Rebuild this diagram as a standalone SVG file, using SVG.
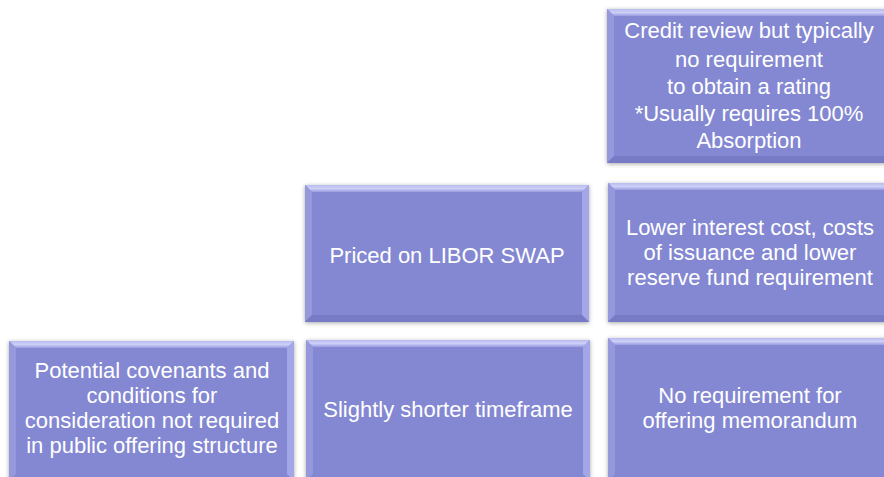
<svg xmlns="http://www.w3.org/2000/svg" width="884" height="477" viewBox="0 0 884 477">
  <defs>
    <style>
      .base { fill: #8488D2; filter: url(#shadow); }
      .bt { fill: url(#topG); }
      .bl { fill: #9599DC; }
      .br { fill: #A4A7E7; }
      .bb { fill: #777BC6; }
      .lbl { font-family: "Liberation Sans", Arial, sans-serif; font-size: 22px; fill: #FFFFFF; text-anchor: middle; }
    </style>
    <linearGradient id="topG" x1="0" y1="0" x2="0" y2="1">
      <stop offset="0" stop-color="#B9BCF0"/>
      <stop offset="0.5" stop-color="#CDCFF7"/>
      <stop offset="1" stop-color="#999CE0"/>
    </linearGradient>
    <filter id="shadow" x="-5%" y="-5%" width="110%" height="115%">
      <feDropShadow dx="0" dy="1" stdDeviation="2" flood-color="#000000" flood-opacity="0.35"/>
    </filter>
  </defs>
  <rect width="884" height="477" fill="#FFFFFF"/>
  <g id="connectors"/>

  <g id="node-credit-review">
    <rect class="base" x="607" y="9" width="284" height="154"/>
    <polygon class="bt" points="607,9 891,9 884,16 614,16"/>
    <polygon class="bl" points="607,9 614,16 614,156 607,163"/>
    <polygon class="br" points="891,9 891,163 884,156 884,16"/>
    <polygon class="bb" points="607,163 614,156 884,156 891,163"/>
    <text class="lbl" x="749" y="38">Credit review but typically</text>
    <text class="lbl" x="749" y="67">no requirement</text>
    <text class="lbl" x="749" y="94">to obtain a rating</text>
    <text class="lbl" x="749" y="121">*Usually requires 100%</text>
    <text class="lbl" x="749" y="148">Absorption</text>
  </g>

  <g id="node-priced">
    <rect class="base" x="305" y="185" width="284" height="137"/>
    <polygon class="bt" points="305,185 589,185 582,192 312,192"/>
    <polygon class="bl" points="305,185 312,192 312,315 305,322"/>
    <polygon class="br" points="589,185 589,322 582,315 582,192"/>
    <polygon class="bb" points="305,322 312,315 582,315 589,322"/>
    <text class="lbl" x="447" y="263">Priced on LIBOR SWAP</text>
  </g>

  <g id="node-lower-interest">
    <rect class="base" x="608" y="183" width="284" height="139"/>
    <polygon class="bt" points="608,183 892,183 885,190 615,190"/>
    <polygon class="bl" points="608,183 615,190 615,315 608,322"/>
    <polygon class="br" points="892,183 892,322 885,315 885,190"/>
    <polygon class="bb" points="608,322 615,315 885,315 892,322"/>
    <text class="lbl" x="750" y="235">Lower interest cost, costs</text>
    <text class="lbl" x="750" y="260">of issuance and lower</text>
    <text class="lbl" x="750" y="285">reserve fund requirement</text>
  </g>

  <g id="node-covenants">
    <rect class="base" x="9" y="341" width="285" height="140"/>
    <polygon class="bt" points="9,341 294,341 287,348 16,348"/>
    <polygon class="bl" points="9,341 16,348 16,474 9,481"/>
    <polygon class="br" points="294,341 294,481 287,474 287,348"/>
    <text class="lbl" x="152" y="378">Potential covenants and</text>
    <text class="lbl" x="152" y="403">conditions for</text>
    <text class="lbl" x="152" y="428">consideration not required</text>
    <text class="lbl" x="152" y="453">in public offering structure</text>
  </g>

  <g id="node-shorter-timeframe">
    <rect class="base" x="306" y="340" width="284" height="141"/>
    <polygon class="bt" points="306,340 590,340 583,347 313,347"/>
    <polygon class="bl" points="306,340 313,347 313,474 306,481"/>
    <polygon class="br" points="590,340 590,481 583,474 583,347"/>
    <text class="lbl" x="448" y="417">Slightly shorter timeframe</text>
  </g>

  <g id="node-no-memorandum">
    <rect class="base" x="608" y="338" width="284" height="143"/>
    <polygon class="bt" points="608,338 892,338 885,345 615,345"/>
    <polygon class="bl" points="608,338 615,345 615,474 608,481"/>
    <polygon class="br" points="892,338 892,481 885,474 885,345"/>
    <text class="lbl" x="750" y="403">No requirement for</text>
    <text class="lbl" x="750" y="428">offering memorandum</text>
  </g>
</svg>
